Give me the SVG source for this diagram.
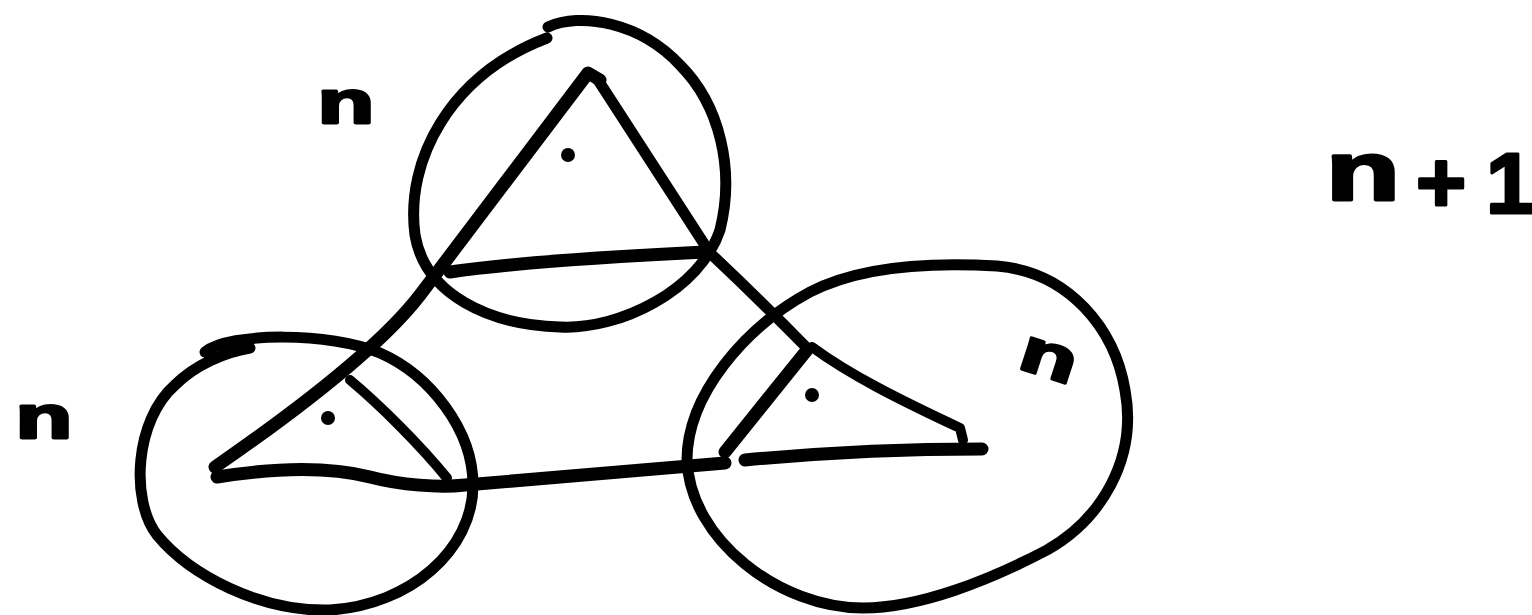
<svg xmlns="http://www.w3.org/2000/svg" width="1532" height="615" viewBox="0 0 1532 615">
<style>
.ink{fill:none;stroke:#000;stroke-linecap:round;stroke-linejoin:round;stroke-width:11}
.thick{stroke-width:13}
.thin{stroke-width:10}
.dot{fill:#000}
.lbl{font-family:"Liberation Sans",Arial,sans-serif;font-weight:bold;fill:#000;stroke:#000;stroke-width:3;stroke-linejoin:round}
</style>
<rect width="1532" height="615" fill="#fff"/>
<g id="node-top">
<path class="ink" d="M 548,27 C 580,12 640,22 680,65 C 720,105 735,170 720,230 C 700,290 620,330 560,327 C 490,325 425,295 415,235 C 405,160 450,75 547,38"/>
<path class="ink thick" d="M 450,272 C 520,262 620,256 705,252"/>
<circle class="dot" cx="568" cy="155" r="7"/>
</g>
<g id="node-left">
<path class="ink" d="M 205,352 C 230,332 330,332 380,353 C 430,375 473,430 473,485 C 473,550 410,605 330,610 C 260,612 190,575 157,535 C 130,500 135,420 175,385 C 195,365 225,352 250,348"/>
<path class="ink thin" d="M 350,380 C 380,405 420,445 447,478"/>
<circle class="dot" cx="328" cy="418" r="7"/>
</g>
<g id="node-right">
<path class="ink" d="M 687,460 C 687,395 745,327 810,292 C 860,266 930,262 997,266 C 1070,272 1115,330 1125,390 C 1138,460 1100,520 1047,550 C 990,580 920,608 863,608 C 780,608 690,540 687,460"/>
<path class="ink thin" d="M 812,347 C 850,375 900,400 960,428 L 963,440"/>
<path class="ink thick" d="M 807,350 L 725,452"/>
<path class="ink thick" d="M 745,460 C 820,453 900,449 982,449"/>
<circle class="dot" cx="812" cy="395" r="7"/>
</g>
<g id="connectors">
<path class="ink thick" d="M 600,80 L 588,73 L 420,295 Q 370,360 215,467"/>
<path class="ink" d="M 598,80 L 710,253 Q 760,300 807,348"/>
<path class="ink thick" d="M 217,477 C 280,467 330,467 370,477 C 400,485 440,488 465,485 L 725,463"/>
</g>
<g id="labels">
<text class="lbl" font-size="62" text-anchor="middle" transform="translate(346,123) scale(1.5,1)">n</text>
<text class="lbl" font-size="62" text-anchor="middle" transform="translate(44,438) scale(1.5,1)">n</text>
<text class="lbl" font-size="62" text-anchor="middle" transform="translate(1043,376) rotate(18) scale(1.5,1)">n</text>
<text class="lbl" font-size="84" text-anchor="middle" transform="translate(1363,200) scale(1.45,1)">n</text>
<text class="lbl" font-size="86" text-anchor="middle" x="1441" y="212">+</text>
<text class="lbl" font-size="86" text-anchor="middle" x="1510" y="213">1</text>
</g>
</svg>
